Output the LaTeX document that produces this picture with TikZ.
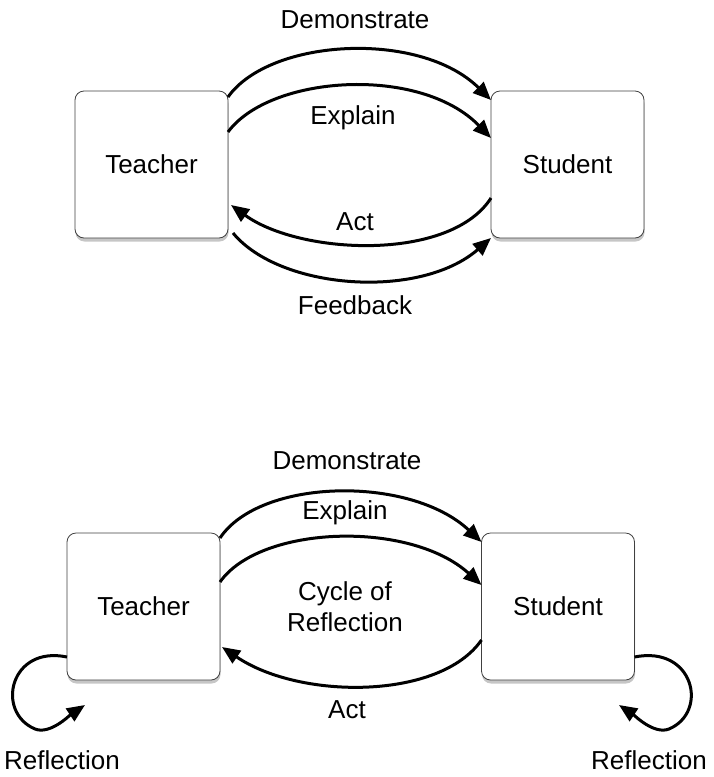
\documentclass[tikz,border=0pt]{standalone}
\usepackage{fontspec}
\setmainfont{Liberation Sans}
\usetikzlibrary{arrows.meta, shadows, positioning, calc}
\tikzset{box/.style={draw=black!75, line width=0.8pt, rounded corners=9pt, fill=white, minimum width=153pt, minimum height=147pt, inner sep=0pt, outer sep=0pt, drop shadow={opacity=0.45, shadow xshift=0.5pt, shadow yshift=-3.5pt}},
  flow/.style={line width=3pt, -{Triangle[length=18pt, width=15pt]}},
  lbl/.style={font=\fontsize{26}{31}\selectfont, align=center}}

\begin{document}
\begin{tikzpicture}[x=1pt, y=-1pt]
  \useasboundingbox (0,0) rectangle (713,777);

% first picture: teacher and student
  \node[box, lbl] (teacherTop) at (151.5,164.5) {Teacher};
  \node[box, lbl] (studentTop) at (567.5,164.5) {Student};

  \node[lbl] (demoTop) at (355,20) {Demonstrate};
  \node[lbl] (explainTop) at (353,118) {Explain};
  \node[lbl] (actTop) at (355,222) {Act};
  \node[lbl] (feedbackTop) at (355,305) {Feedback};

  \draw[flow] ([yshift=-6pt]teacherTop.north east) .. controls (270,38) and (420,30) .. ([yshift=-9pt]studentTop.north west);
  \draw[flow] ([yshift=-41pt]teacherTop.north east) .. controls (270,75) and (420,65) .. ([yshift=-47pt]studentTop.north west);
  \draw[flow] ([yshift=-33.5pt]studentTop.west) .. controls (450,262) and (300,255) .. ([xshift=3pt,yshift=-40.5pt]teacherTop.east);
  \draw[flow] ([xshift=5pt,yshift=5pt]teacherTop.south east) .. controls (280,290) and (420,300) .. (studentTop.south west);

% second picture: with the reflection loops
  \node[box, lbl] (teacherBot) at (143.5,606.5) {Teacher};
  \node[box, lbl] (studentBot) at (558,606.5) {Student};

  \node[lbl] (demoBot) at (347,461) {Demonstrate};
  \node[lbl] (explainBot) at (345,513) {Explain};
  \node[lbl] (cycleBot) at (345,607) {Cycle of\\Reflection};
  \node[lbl] (actBot) at (347,710) {Act};
  \node[lbl] (reflTeacher) at (62,760) {Reflection};
  \node[lbl] (reflStudent) at (649,760) {Reflection};

  \coordinate (loopTeacher) at (85,705);
  \coordinate (loopStudent) at (619,705);

  \draw[flow] ([yshift=-5pt]teacherBot.north east) .. controls (260,478) and (410,475) .. ([yshift=-9pt]studentBot.north west);
  \draw[flow] ([yshift=-49pt]teacherBot.north east) .. controls (260,525) and (410,520) .. ([yshift=-52pt]studentBot.north west);
  \draw[flow] ([yshift=-33.5pt]studentBot.west) .. controls (440,700) and (300,700) .. ([xshift=2pt,yshift=-40.5pt]teacherBot.east);

  \draw[flow] ([yshift=-50.5pt]teacherBot.west) .. controls (10,645) and (-5,712) .. (35,729) .. controls (50,735) and (70,715) .. (loopTeacher);
  \draw[flow] ([yshift=-50.5pt]studentBot.east) .. controls (694,645) and (709,712) .. (669,729) .. controls (654,735) and (634,715) .. (loopStudent);

\end{tikzpicture}
\end{document}
